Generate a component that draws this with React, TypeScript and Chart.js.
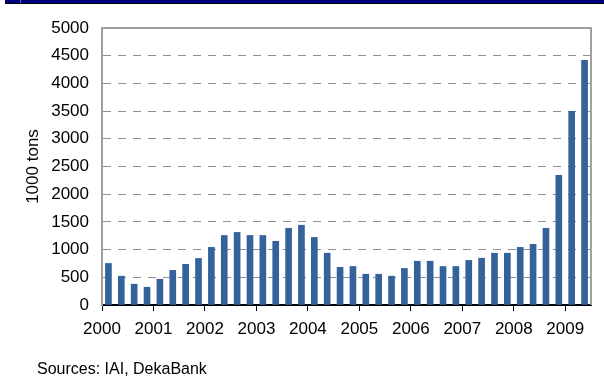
import React, { useEffect, useRef } from "react";
import { Chart, registerables } from "chart.js";

Chart.register(...registerables);

const quarters: string[] = [
  "2000 Q1", "2000 Q2", "2000 Q3", "2000 Q4",
  "2001 Q1", "2001 Q2", "2001 Q3", "2001 Q4",
  "2002 Q1", "2002 Q2", "2002 Q3", "2002 Q4",
  "2003 Q1", "2003 Q2", "2003 Q3", "2003 Q4",
  "2004 Q1", "2004 Q2", "2004 Q3", "2004 Q4",
  "2005 Q1", "2005 Q2", "2005 Q3", "2005 Q4",
  "2006 Q1", "2006 Q2", "2006 Q3", "2006 Q4",
  "2007 Q1", "2007 Q2", "2007 Q3", "2007 Q4",
  "2008 Q1", "2008 Q2", "2008 Q3", "2008 Q4",
  "2009 Q1", "2009 Q2",
];

const stocks: number[] = [
  750, 520, 375, 320,
  465, 625, 735, 840,
  1040, 1255, 1310, 1255,
  1255, 1150, 1385, 1440,
  1220, 935, 680, 695,
  555, 555, 520, 660,
  790, 790, 695, 695,
  805, 845, 935, 935,
  1040, 1095, 1385, 2340,
  3495, 4415,
];

const yearLabels: string[] = [
  "2000", "2001", "2002", "2003", "2004",
  "2005", "2006", "2007", "2008", "2009",
];

const yTitle = "1000 tons";
const sourceText = "Sources: IAI, DekaBank";

const FONT = "'Liberation Sans', Arial, sans-serif";

export default function App() {
  const ref = useRef<HTMLCanvasElement | null>(null);

  useEffect(() => {
    document.body.style.margin = "0";
    const canvas = ref.current;
    if (!canvas) return;

    const boxPlugin = {
      id: "plotBox",
      afterDraw(chart: any) {
        const { ctx, chartArea } = chart;
        ctx.save();
        ctx.strokeStyle = "#a0a0a0";
        ctx.lineWidth = 2;
        ctx.beginPath();
        ctx.moveTo(chartArea.left, chartArea.top);
        ctx.lineTo(chartArea.right, chartArea.top);
        ctx.lineTo(chartArea.right, chartArea.bottom);
        ctx.stroke();
        ctx.restore();
      },
    };

    const chart = new Chart(canvas, {
      type: "bar",
      data: {
        labels: quarters,
        datasets: [
          {
            data: stocks.map((v, i) => ({ x: i + 0.5, y: v })),
            backgroundColor: "#33639a",
            borderWidth: 0,
            barThickness: 6,
          },
        ],
      },
      options: {
        animation: false,
        responsive: false,
        maintainAspectRatio: false,
        layout: { padding: { top: 28, right: 13, bottom: 0, left: 0 } },
        plugins: {
          legend: { display: false },
          tooltip: { enabled: false },
        },
        scales: {
          x: {
            type: "linear",
            offset: false,
            min: 0,
            max: quarters.length,
            afterFit(scale: any) {
              scale.height = 78;
            },
            ticks: {
              stepSize: 4,
              includeBounds: false,
              autoSkip: false,
              maxRotation: 0,
              padding: 8,
              color: "#000",
              font: { family: FONT, size: 17 },
              callback: (v: any) => {
                const idx = Math.round(Number(v) / 4);
                return Number(v) % 4 === 0 ? yearLabels[idx] ?? "" : "";
              },
            },
            grid: {
              offset: false,
              drawOnChartArea: false,
              drawTicks: true,
              tickLength: 6,
              color: "#000",
              lineWidth: 1,
            },
            border: { display: true, color: "#000", width: 2 },
          },
          y: {
            min: 0,
            max: 5000,
            afterFit(scale: any) {
              scale.width = 102;
            },
            ticks: {
              stepSize: 500,
              padding: 13,
              color: "#000",
              font: { family: FONT, size: 17 },
              callback: (v: any) => String(v),
            },
            grid: {
              drawTicks: false,
              color: "#909090",
              lineWidth: 1,
            },
            border: { display: true, color: "#a0a0a0", width: 2, dash: [8, 7] },
            title: {
              display: true,
              text: yTitle,
              color: "#000",
              font: { family: FONT, size: 17 },
              padding: { top: 23, bottom: 0 },
            },
          },
        },
      },
      plugins: [boxPlugin],
    } as any);

    return () => chart.destroy();
  }, []);

  return (
    <div style={{ position: "fixed", left: 0, top: 0, width: 604, height: 383, background: "#fff", overflow: "hidden" }}>
      <div style={{ position: "absolute", left: 5, top: 0, width: 599, height: 3, background: "#000080", borderBottom: "1px solid #000" }} />
      <div style={{ position: "absolute", left: 20, top: 0, width: 1, height: 3, background: "#6a6ab0" }} />
      <canvas ref={ref} width={604} height={383} style={{ position: "absolute", left: 0, top: 0, width: 604, height: 383 }} />
      <div style={{ position: "absolute", left: 37, top: 359, fontFamily: FONT, fontSize: 16, color: "#000", whiteSpace: "nowrap", lineHeight: "20px" }}>
        {sourceText}
      </div>
    </div>
  );
}
